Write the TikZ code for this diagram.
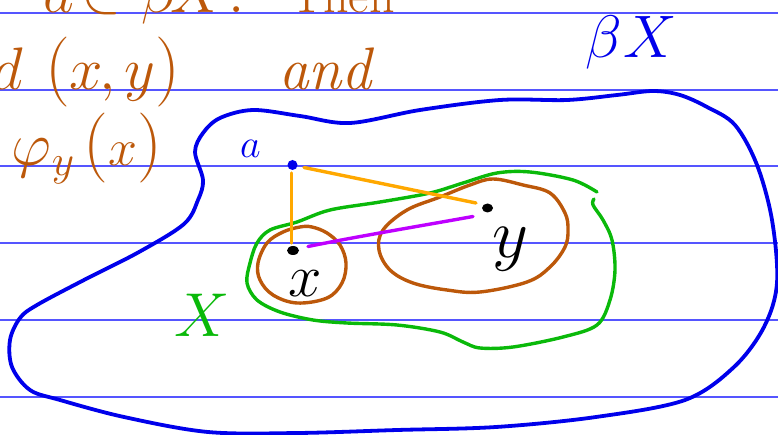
\RequirePackage{fix-cm}
\documentclass[tikz,border=0pt]{standalone}
\usepackage{amsmath}
\definecolor{inkbrown}{RGB}{188,88,10}
\definecolor{inkorange}{RGB}{255,168,0}
\definecolor{inkgreen}{RGB}{10,185,10}
\definecolor{inkpurple}{RGB}{190,0,255}
\definecolor{inkblue}{RGB}{0,0,235}
\definecolor{ruleblue}{RGB}{85,85,255}
\tikzset{
  rule/.style={draw=ruleblue,line width=1.2pt},
  pen/.style={line width=3.4pt,line cap=round,line join=round},
  hand/.style={inner sep=0pt,outer sep=0pt},
  brownbig/.style={hand,anchor=base,text=inkbrown,font=\fontsize{60}{60}\selectfont},
  brownparen/.style={hand,anchor=base,text=inkbrown,font=\fontsize{70}{70}\selectfont},
}
\begin{document}
\begin{tikzpicture}[x=1pt,y=-1pt]
\useasboundingbox (0,0) rectangle (778,435);
% ruled lines
\foreach \yy in {13,90,166,243,320,397}{
  \draw[rule] (0,\yy) -- (778,\yy);
}
% brown text, top line (cut off at the top)
\node[brownbig] (t1) at (59,13) {$a$};
\node[brownbig] (t2) at (101,13) {$\in$};
\node[brownbig] (t3) at (160,13) {$\beta$};
\node[brownbig] (t4) at (197,13) {$X$};
\node[brownbig] (t5) at (237,13) {$.$};
\node[hand,anchor=base west,text=inkbrown,font=\fontsize{50}{50}\selectfont] (t6) at (290,13) {Then};
% d(x,y) and
\node[brownbig] (d1) at (8,90) {$d$};
\node[brownparen] (d2) at (58,90) {$($};
\node[brownbig] (d3) at (86,90) {$x$};
\node[brownbig] (d4) at (108,90) {$,$};
\node[brownbig] (d5) at (140,90) {$y$};
\node[brownparen] (d6) at (168,90) {$)$};
\node[hand,anchor=base west,text=inkbrown,font=\fontsize{60}{60}\selectfont] (andw) at (278,90) {$\mathit{and}$};
% phi_y(x)
\node[hand,anchor=base west,text=inkbrown,font=\fontsize{62}{62}\selectfont] (p1) at (12,166) {$\varphi_y$};
\node[hand,anchor=base west,text=inkbrown,font=\fontsize{70}{70}\selectfont] (p2) at (83,166)
  {$($\kern1pt{\fontsize{52}{52}\selectfont$x$}$)$};
% blue labels
\node[hand,anchor=base west,text=inkblue,font=\fontsize{40}{40}\selectfont] (alab) at (240,158) {$a$};
\node[hand,anchor=base,text=inkblue,font=\fontsize{60}{60}\selectfont] (bxb) at (604,58) {$\beta$};
\node[hand,anchor=base,text=inkblue,font=\fontsize{60}{60}\selectfont] (bxx) at (650,58) {$X$};
% green X
\node[hand,anchor=base west,text=inkgreen,font=\fontsize{62}{62}\selectfont] (gx) at (174,336) {$X$};
% black labels
\node[hand,anchor=base west,font=\fontsize{60}{60}\selectfont] (xlab) at (288,296) {$x$};
\node[hand,anchor=base west,font=\fontsize{70}{70}\selectfont] (ylab) at (492,258) {$y$};
% beta X region
\draw[pen,inkblue,line width=3.8pt] plot[smooth cycle,tension=0.55] coordinates {
 (500,100) (567,100) (617,95) (653,91) (680,95) (707,107) (735,125)
 (757,165) (772,220) (777,283) (764,327) (734,367) (685,400) (596,417)
 (496,427) (397,430) (298,433) (208,432) (124,417) (60,400) (30,390)
 (12,367) (10,340) (20,318) (37,305) (84,280) (139,252) (184,224)
 (198,200) (203,180) (195,152) (203,133) (220,118) (253,110) (300,116)
 (350,123) (420,110)};
% X region (open curve)
\draw[pen,inkgreen] plot[smooth,tension=0.55] coordinates {
 (597,192) (573,180) (530,172) (497,173) (463,183) (430,193) (380,202)
 (330,210) (297,222) (270,230) (257,243) (250,263) (247,283) (257,300)
 (280,312) (313,320) (347,323) (397,325) (440,332) (463,342) (480,348)
 (513,347) (563,337) (597,325) (610,300) (615,270) (612,240) (603,220)
 (593,205) (594,199)};
% neighbourhoods
\draw[pen,inkbrown] plot[smooth cycle,tension=0.6] coordinates {
 (312,227) (327,233) (340,245) (346,263) (342,283) (327,298) (297,303)
 (273,295) (260,280) (258,263) (267,243) (283,232) (300,227)};
\draw[pen,inkbrown] plot[smooth cycle,tension=0.6] coordinates {
 (493,179) (523,185) (550,193) (565,213) (568,230) (565,247) (550,267)
 (527,282) (480,292) (447,290) (413,283) (390,270) (379,250) (383,230)
 (407,210) (440,197) (470,185)};
% points
\coordinate (pa) at (292.5,165);
\coordinate (px) at (293,250.5);
\coordinate (py) at (487.5,208);
\fill[inkblue] (pa) ellipse[x radius=5,y radius=5];
\fill[black] (px) ellipse[x radius=6,y radius=4.5];
\fill[black] (py) ellipse[x radius=5.5,y radius=4.5];
% connectors
\coordinate (ov1) at (291.7,173);
\coordinate (ov2) at (291.7,243);
\coordinate (od1) at (304,167.5);
\coordinate (od2) at (476,203);
\draw[pen,inkorange] (ov1) -- (ov2);
\draw[pen,inkorange] (od1) -- (od2);
\coordinate (pu1) at (308,246.5);
\coordinate (pu2) at (473,216.5);
\draw[pen,inkpurple] (pu1) .. controls (360,236) and (420,226) .. (pu2);
\end{tikzpicture}
\end{document}
